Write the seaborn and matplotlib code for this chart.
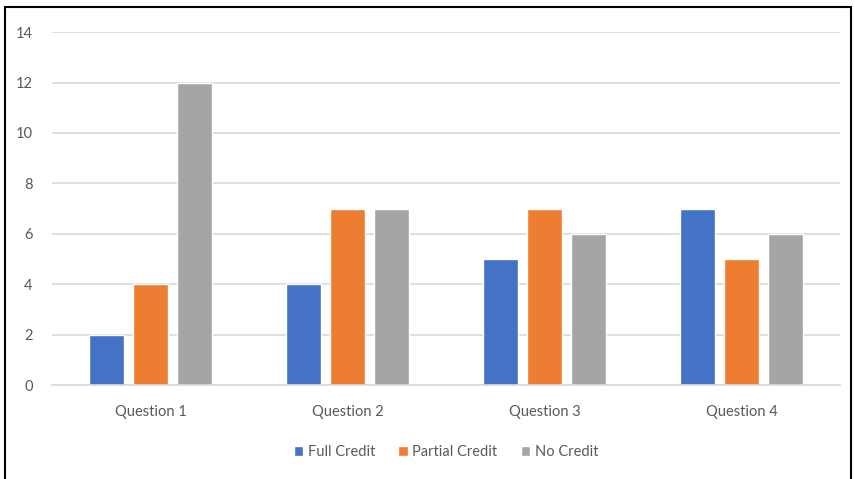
import matplotlib
matplotlib.use("Agg")
import matplotlib.pyplot as plt
import seaborn as sns
import pandas as pd
from matplotlib.lines import Line2D

questions = ["Question 1", "Question 2", "Question 3", "Question 4"]
full_credit = [2, 4, 5, 7]
partial_credit = [4, 7, 7, 5]
no_credit = [12, 7, 6, 6]
series_names = ["Full Credit", "Partial Credit", "No Credit"]
colors = ["#4472C4", "#ED7D31", "#A5A5A5"]

rows = []
for name, vals in zip(series_names, [full_credit, partial_credit, no_credit]):
    for q, v in zip(questions, vals):
        rows.append({"Question": q, "Series": name, "Value": v})
df = pd.DataFrame(rows)

sns.set_theme(style="white")
plt.rcParams["font.family"] = ["Lato", "DejaVu Sans"]

fig = plt.figure(figsize=(8.55, 4.79), dpi=100)
ax = fig.add_axes([0.0608, 0.196, 0.9217, 0.737])

sns.barplot(data=df, x="Question", y="Value", hue="Series", order=questions,
            hue_order=series_names, palette=colors, width=0.67, gap=0.2,
            saturation=1, ax=ax, legend=True)

ax.set_ylim(0, 14)
ax.set_xlim(-0.5, 3.5)
ax.set_yticks(range(0, 15, 2))
ax.yaxis.grid(True, color="#D9D9D9", linewidth=1.2)
ax.set_axisbelow(True)
for s in ["top", "right", "left"]:
    ax.spines[s].set_visible(False)
ax.spines["bottom"].set_color("#D9D9D9")
ax.spines["bottom"].set_linewidth(1.2)
ax.set_xlabel("")
ax.set_ylabel("")
ax.tick_params(axis="both", length=0, labelsize=10.5, labelcolor="#595959")
ax.tick_params(axis="y", pad=14)
ax.tick_params(axis="x", pad=14)

handles, labels = ax.get_legend_handles_labels()
ax.legend(handles, labels, loc="center", bbox_to_anchor=(0.5, -0.19),
          ncol=3, frameon=False, fontsize=10.5, labelcolor="#595959",
          handlelength=0.65, handleheight=0.65, handletextpad=0.3,
          columnspacing=1.6)

# border of the chart area
fig.add_artist(Line2D([5/855, 5/855], [0, 1 - 7/479], color="black", lw=1.5, transform=fig.transFigure))
fig.add_artist(Line2D([5/855, 851/855], [1 - 7/479, 1 - 7/479], color="black", lw=1.5, transform=fig.transFigure))
fig.add_artist(Line2D([851/855, 851/855], [0, 1 - 7/479], color="black", lw=1.5, transform=fig.transFigure))

fig.savefig("out.png", dpi=100)
